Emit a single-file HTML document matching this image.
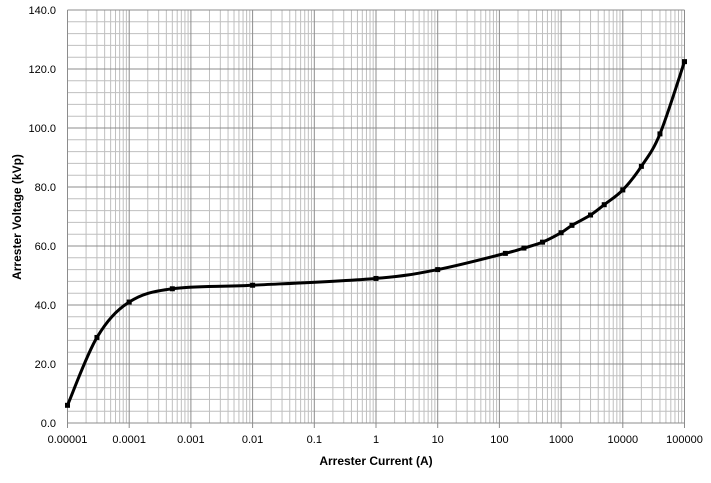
<!DOCTYPE html>
<html><head><meta charset="utf-8"><style>
body{margin:0;background:#fff;font-family:"Liberation Sans",sans-serif}
</style></head><body>
<svg id="chart" width="711" height="478" xmlns="http://www.w3.org/2000/svg" font-family="Liberation Sans, sans-serif">
<g id="grid"></g>
<g id="axes"></g>
<g id="series"></g>
<text x="376" y="465" font-size="12" font-weight="bold" text-anchor="middle">Arrester Current (A)</text>
<text transform="translate(21,217) rotate(-90)" font-size="12" font-weight="bold" text-anchor="middle">Arrester Voltage  (kVp)</text>
</svg>
<script>
const currents=[0.00001,0.00003,0.0001,0.0005,0.01,1,10,125,250,500,1000,1500,3000,5000,10000,20000,40000,100000];
const voltages=[6,29,41,45.5,46.7,49,52,57.5,59.3,61.3,64.5,67,70.5,74,79,87,98,122.5];
const xTickLabels=["0.00001","0.0001","0.001","0.01","0.1","1","10","100","1000","10000","100000"];
const yTickLabels=["0.0","20.0","40.0","60.0","80.0","100.0","120.0","140.0"];
const NS="http://www.w3.org/2000/svg";
const X0=67.5,X1=684.5,Y0=423,Y1=10;
function xs(v){return X0+(Math.log10(v)+5)/10*(X1-X0);}
function ys(v){return Y0-v/140*(Y0-Y1);}
function mk(p,tag,a){const e=document.createElementNS(NS,tag);for(const k in a)e.setAttribute(k,a[k]);p.appendChild(e);return e;}
const grid=document.getElementById('grid'),axes=document.getElementById('axes'),series=document.getElementById('series');
for(let v=4;v<140;v+=4){if(v%20===0)continue;const l=mk(grid,'line',{x1:X0,x2:X1,y1:ys(v),y2:ys(v),stroke:'#bfbfbf','stroke-width':1});

}
for(let d=-5;d<5;d++)for(let m=2;m<10;m++){const x=xs(m*Math.pow(10,d));const l=mk(grid,'line',{x1:x,x2:x,y1:Y1,y2:Y0,stroke:'#bfbfbf','stroke-width':1});

}
yTickLabels.forEach((t,i)=>{const v=i*20,y=ys(v);
const l=mk(grid,'line',{x1:X0,x2:X1,y1:y,y2:y,stroke:'#8c8c8c','stroke-width':1});


const tx=mk(axes,'text',{x:56,y:y+4,'font-size':11,'text-anchor':'end'});tx.textContent=t;

});
xTickLabels.forEach((t,i)=>{const x=xs(parseFloat(t));
const l=mk(grid,'line',{x1:x,x2:x,y1:Y1,y2:Y0+5,stroke:'#8c8c8c','stroke-width':1});


const tx=mk(axes,'text',{x:x,y:443,'font-size':11,'text-anchor':'middle'});tx.textContent=t;

});
const ax=mk(axes,'line',{x1:X0,x2:X1,y1:Y0,y2:Y0,stroke:'#8c8c8c'});


const pts=currents.map((c,i)=>[xs(c),ys(voltages[i])]);
let d='M'+pts[0][0]+','+pts[0][1];
for(let i=0;i<pts.length-1;i++){const p0=pts[i-1]||pts[i],p1=pts[i],p2=pts[i+1],p3=pts[i+2]||p2;
const c1=[p1[0]+(p2[0]-p0[0])/6,p1[1]+(p2[1]-p0[1])/6],c2=[p2[0]-(p3[0]-p1[0])/6,p2[1]-(p3[1]-p1[1])/6];
d+=` C${c1[0]},${c1[1]} ${c2[0]},${c2[1]} ${p2[0]},${p2[1]}`;}
const path=mk(series,'path',{d:d,fill:'none',stroke:'#000','stroke-width':3});


pts.forEach(p=>{const r=mk(series,'rect',{x:p[0]-2.5,y:p[1]-2.5,width:5,height:5,fill:'#000'});

});
</script>
</body></html>
